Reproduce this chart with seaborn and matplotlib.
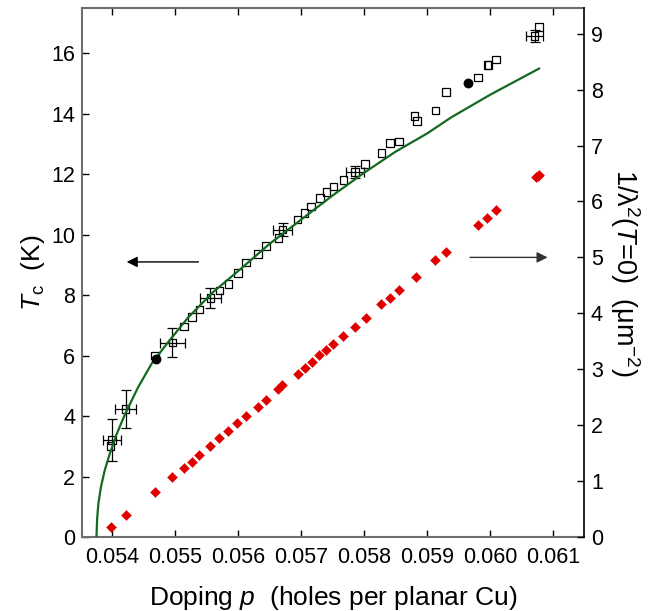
import numpy as np
import pandas as pd
import matplotlib
matplotlib.use("Agg")
import matplotlib.pyplot as plt
import seaborn as sns

# ---------------- data ----------------
# Tc, open squares
p_tc = [0.053975, 0.054000, 0.054213, 0.054675, 0.054955, 0.055144, 0.055268,
        0.055387, 0.055558, 0.055701, 0.055846, 0.055992, 0.056127, 0.056313,
        0.056446, 0.056641, 0.056705, 0.056942, 0.057055, 0.057154, 0.057294,
        0.057400, 0.057512, 0.057671, 0.057850, 0.058016, 0.058275, 0.058407,
        0.058557, 0.058800, 0.058837, 0.059130, 0.059298, 0.059807, 0.059957,
        0.059973, 0.060094, 0.060705, 0.060773]
tc = [3.02, 3.21, 4.23, 6.01, 6.43, 6.97, 7.27,
      7.52, 7.91, 8.15, 8.37, 8.73, 9.08, 9.36,
      9.63, 9.89, 10.17, 10.50, 10.72, 10.93, 11.22,
      11.41, 11.59, 11.82, 12.08, 12.34, 12.71, 13.04,
      13.09, 13.93, 13.76, 14.11, 14.72, 15.20, 15.62,
      15.62, 15.79, 16.57, 16.88]

# Tc points with error bars
p_err = [0.054000, 0.054213, 0.054955, 0.055558, 0.056705, 0.057850, 0.060705]
tc_err = [3.21, 4.23, 6.43, 7.91, 10.17, 12.08, 16.57]
p_xerr = [0.00014, 0.00017, 0.00020, 0.00017, 0.000146, 0.00014, 0.00013]
tc_yerr = [0.70, 0.62, 0.48, 0.34, 0.22, 0.20, 0.21]

# Tc, filled circles
p_circ = [0.05470, 0.059655]
tc_circ = [5.89, 15.02]

# green curve
p_fit = [0.05375, 0.05376, 0.05378, 0.05382, 0.05388, 0.05396, 0.05407,
         0.05420, 0.05441, 0.05463, 0.05487, 0.05520, 0.05560, 0.05600,
         0.05650, 0.05700, 0.05750, 0.05800, 0.05850, 0.05900, 0.05938,
         0.06000, 0.06078]
tc_fit = [0.0, 0.6, 1.1, 1.65, 2.2, 2.75, 3.4,
          4.05, 4.95, 5.75, 6.4, 7.25, 8.1, 8.8,
          9.7, 10.5, 11.3, 12.05, 12.75, 13.35, 13.88,
          14.63, 15.5]

# 1/lambda^2, red diamonds
p_lam = [0.05398, 0.054213, 0.054675, 0.054950, 0.055141, 0.055263, 0.055379,
         0.055554, 0.055693, 0.055841, 0.055984, 0.056116, 0.056313, 0.056446,
         0.056625, 0.056695, 0.056944, 0.057061, 0.057177, 0.057281, 0.057400,
         0.057507, 0.057666, 0.057850, 0.058021, 0.058275, 0.058407, 0.058551,
         0.058816, 0.059130, 0.059294, 0.059803, 0.059957, 0.060100, 0.060730,
         0.060755, 0.060781]
lam = [0.174, 0.388, 0.805, 1.079, 1.240, 1.347, 1.462,
       1.633, 1.766, 1.902, 2.034, 2.159, 2.331, 2.456,
       2.648, 2.714, 2.916, 3.029, 3.131, 3.247, 3.345,
       3.447, 3.596, 3.762, 3.912, 4.168, 4.281, 4.419,
       4.657, 4.950, 5.098, 5.576, 5.712, 5.850, 6.435,
       6.455, 6.476]

x_ticks = [0.054, 0.055, 0.056, 0.057, 0.058, 0.059, 0.060, 0.061]
y_ticks_left = [0, 2, 4, 6, 8, 10, 12, 14, 16]
y_ticks_right = [0, 1, 2, 3, 4, 5, 6, 7, 8, 9]

# ---------------- style ----------------
sns.set_style("white")
plt.rcParams["font.family"] = ["Liberation Sans", "DejaVu Sans"]
plt.rcParams["mathtext.fontset"] = "custom"
plt.rcParams["mathtext.rm"] = "Liberation Sans"
plt.rcParams["mathtext.it"] = "Liberation Sans:italic"
plt.rcParams["mathtext.bf"] = "Liberation Sans:bold"
for k in ["text.color", "axes.labelcolor", "xtick.color", "ytick.color"]:
    plt.rcParams[k] = "black"

fig = plt.figure(figsize=(6.70, 6.11), dpi=100)
ax = fig.add_axes([82 / 670, 1 - 537 / 611, (584 - 82) / 670, (537 - 8) / 611])
ax2 = ax.twinx()

df_tc = pd.DataFrame({"p": p_tc, "tc": tc})
df_fit = pd.DataFrame({"p": p_fit, "tc": tc_fit})
df_circ = pd.DataFrame({"p": p_circ, "tc": tc_circ})
df_lam = pd.DataFrame({"p": p_lam, "lam": lam})

ax.errorbar(p_err, tc_err, xerr=p_xerr, yerr=tc_yerr, fmt="none",
            ecolor="black", elinewidth=0.9, capsize=3.5, capthick=0.9, zorder=2)
sns.scatterplot(data=df_tc, x="p", y="tc", ax=ax, marker="s", s=30,
                facecolor="none", edgecolor="black", linewidth=0.9, zorder=3)
sns.lineplot(data=df_fit, x="p", y="tc", ax=ax, color="#13691f", linewidth=1.6,
             sort=False, zorder=4)
sns.scatterplot(data=df_circ, x="p", y="tc", ax=ax, marker="o", s=50,
                color="black", edgecolor="black", linewidth=0, zorder=5)
sns.scatterplot(data=df_lam, x="p", y="lam", ax=ax2, marker="D", s=26,
                color="#e00000", edgecolor="#e00000", linewidth=0.3, zorder=3)

# arrows
ax.annotate("", xy=(0.054229, 9.10), xytext=(0.055368, 9.10),
            arrowprops=dict(arrowstyle="-|>", color="black", lw=1.0,
                            mutation_scale=16, shrinkA=0, shrinkB=0))
ax.annotate("", xy=(0.060912, 9.25), xytext=(0.05968, 9.25),
            arrowprops=dict(arrowstyle="-|>", color="#333333", lw=1.0,
                            mutation_scale=16, shrinkA=0, shrinkB=0))

# axes limits & ticks
ax.set_xlim(0.05352, 0.06149)
ax.set_ylim(0, 17.5)
ax2.set_ylim(0, 9.46)
ax.set_xticks(x_ticks)
ax.set_xticklabels([f"{v:.3f}" for v in x_ticks])
ax.set_yticks(y_ticks_left)
ax.set_yticklabels([str(v) for v in y_ticks_left])
ax2.set_yticks(y_ticks_right)
ax2.set_yticklabels([str(v) for v in y_ticks_right])

ax.tick_params(axis="both", direction="in", length=5, width=1, color="black",
               labelsize=15.5, pad=7, top=True, bottom=True, left=True, right=False)
ax.tick_params(axis="y", pad=5)
ax2.tick_params(axis="y", direction="in", length=5, width=1, color="black",
                labelsize=15.5, pad=5)

for s in ["left", "top", "bottom"]:
    ax.spines[s].set_color("#6e6e6e")
    ax.spines[s].set_linewidth(1.5)
    ax2.spines[s].set_visible(False)
ax.spines["right"].set_visible(False)
ax2.spines["right"].set_color("black")
ax2.spines["right"].set_linewidth(1.2)

ax.set_xlabel(r"Doping $p$  (holes per planar Cu)", fontsize=19, labelpad=12)
ax.set_ylabel(r"$T_{\mathrm{c}}$  (K)", fontsize=19, labelpad=3)
ax2.set_ylabel("1/λ$^{2}$($T$=0)  (μm$^{-2}$)", fontsize=19.5, rotation=270,
               labelpad=28)

fig.savefig("out.png", dpi=100)
